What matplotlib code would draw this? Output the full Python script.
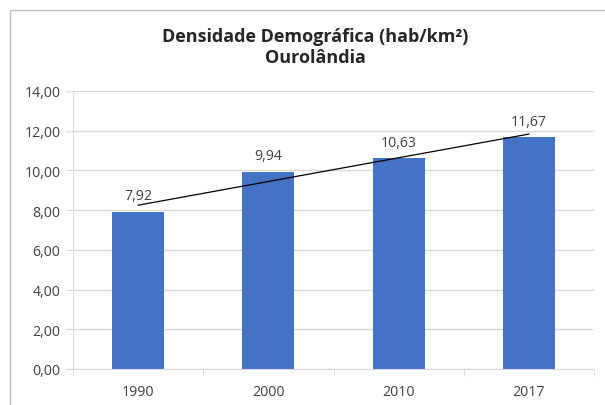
import numpy as np
import matplotlib.pyplot as plt
from matplotlib.patches import Rectangle

anos = ['1990', '2000', '2010', '2017']
densidade = [7.92, 9.94, 10.63, 11.67]
yticks = [0, 2, 4, 6, 8, 10, 12, 14]

plt.rcParams['font.family'] = ['Open Sans', 'DejaVu Sans']
txt = '#404040'
grid = '#d9d9d9'

W, H = 605, 406
fig = plt.figure(figsize=(W / 100, H / 100), dpi=100)
ax = fig.add_axes([73 / W, 1 - 370 / H, (594 - 73) / W, (370 - 92) / H])

x = np.arange(len(anos))
ax.bar(x, densidade, width=0.4, color='#4472C4', zorder=2)

# linear trend line
a, b = np.polyfit(x, densidade, 1)
ax.plot(x, a * x + b, color='black', lw=0.9, zorder=3)

for xi, v in zip(x, densidade):
    ax.annotate(f'{v:.2f}'.replace('.', ','), (xi, v), xytext=(0, 6),
                textcoords='offset points', ha='center', va='bottom',
                fontsize=10.2, color=txt, zorder=4)

ax.set_xlim(-0.5, len(anos) - 0.5)
ax.set_ylim(0, 14)
ax.set_yticks(yticks)
ax.set_yticklabels([f'{t:.2f}'.replace('.', ',') for t in yticks])
ax.set_xticks(x)
ax.set_xticklabels(anos)
ax.set_xticks(np.arange(-0.5, len(anos)), minor=True)
ax.tick_params(axis='x', which='major', length=0, pad=11)
ax.tick_params(axis='x', which='minor', length=5, color=grid)
ax.tick_params(axis='y', length=5, color=grid, pad=4)
ax.tick_params(labelsize=10.2, labelcolor=txt)
ax.grid(axis='y', color=grid, lw=1, zorder=0)
for s in ['top', 'right']:
    ax.spines[s].set_visible(False)
for s in ['left', 'bottom']:
    ax.spines[s].set_color(grid)

fig.text(315 / W, 1 - 37 / H, 'Densidade Demográfica (hab/km²)', ha='center',
         va='center', fontsize=13, fontweight='bold', color='#262626')
fig.text(315 / W, 1 - 58 / H, 'Ourolândia', ha='center', va='center',
         fontsize=13, fontweight='bold', color='#262626')

fig.patches.append(Rectangle((10 / W, -0.05), 1.1, 1 - 10.5 / H + 0.05,
                             transform=fig.transFigure, fill=False,
                             edgecolor='#bfbfbf', lw=1))

fig.savefig('out.png', dpi=100)
